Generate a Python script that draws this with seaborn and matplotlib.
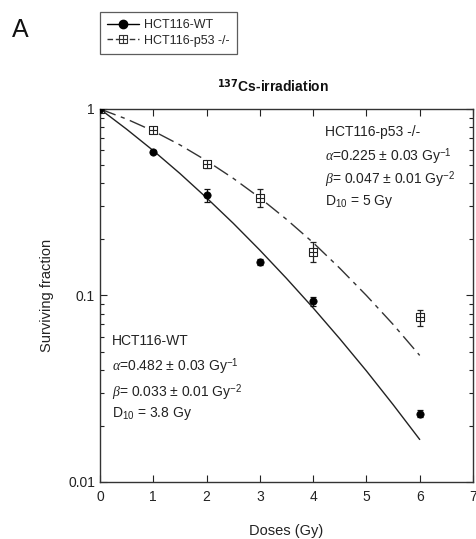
import numpy as np
import pandas as pd
import matplotlib
matplotlib.use("Agg")
import matplotlib.pyplot as plt
from matplotlib.path import Path
from matplotlib.lines import Line2D
from matplotlib.ticker import LogLocator, NullFormatter, FixedLocator
import seaborn as sns

# ---- data ----
doses = [0, 1, 2, 3, 4, 6]
wt_surv = [1.0, 0.59, 0.346, 0.151, 0.093, 0.0232]
wt_err = [0.0, 0.012, 0.027, 0.005, 0.005, 0.001]
p53_surv = [1.0, 0.772, 0.507, 0.334, 0.172, 0.0764]
p53_err = [0.0, 0.02, 0.022, 0.037, 0.021, 0.0077]

curve_doses = [0, 0.5, 1, 1.5, 2, 2.5, 3, 3.5, 4, 4.5, 5, 5.5, 6]
wt_curve = [1.0, 0.779, 0.598, 0.451, 0.334, 0.244, 0.175, 0.1235, 0.0858, 0.0586, 0.0394, 0.0260, 0.0169]
p53_curve = [1.0, 0.883, 0.762, 0.642, 0.528, 0.425, 0.334, 0.256, 0.192, 0.140, 0.100, 0.070, 0.0477]

labels = ["HCT116-WT", "HCT116-p53 -/-"]
x_ticks = [0, 1, 2, 3, 4, 5, 6, 7]
y_ticks = [0.01, 0.1, 1]
y_ticklabels = ["0.01", "0.1", "1"]

sns.set_style("ticks")
plt.rcParams["font.family"] = ["Liberation Sans", "DejaVu Sans"]
plt.rcParams["mathtext.fontset"] = "custom"
plt.rcParams["mathtext.rm"] = "Liberation Sans"
plt.rcParams["mathtext.it"] = "Liberation Serif:italic"

fig = plt.figure(figsize=(4.77, 5.39), dpi=100)
ax = fig.add_axes([0.2096, 0.1058, 0.7820, 0.6920])

DASH = (12, 4, 3, 4)

# curves
curves = pd.DataFrame({
    "dose": curve_doses * 2,
    "surv": wt_curve + p53_curve,
    "line": [labels[0]] * len(curve_doses) + [labels[1]] * len(curve_doses),
})
sns.lineplot(data=curves, x="dose", y="surv", style="line", hue="line",
             palette={labels[0]: "#222222", labels[1]: "#333333"},
             dashes={labels[0]: "", labels[1]: DASH},
             linewidth=1.0, legend=False, ax=ax, sort=False)

# square-with-cross marker
sq = Path([(-1, -1), (1, -1), (1, 1), (-1, 1), (-1, -1),
           (0, -1), (0, 1), (-1, 0), (1, 0)],
          [Path.MOVETO, Path.LINETO, Path.LINETO, Path.LINETO, Path.CLOSEPOLY,
           Path.MOVETO, Path.LINETO, Path.MOVETO, Path.LINETO])

ax.errorbar(doses, p53_surv, yerr=p53_err, fmt="none", ecolor="#222222",
            elinewidth=0.9, capsize=2.5, capthick=0.9, zorder=3)
ax.errorbar(doses, wt_surv, yerr=wt_err, fmt="none", ecolor="#111111",
            elinewidth=0.9, capsize=2.5, capthick=0.9, zorder=3)

pts = pd.DataFrame({"dose": doses, "wt": wt_surv, "p53": p53_surv})
sns.scatterplot(data=pts, x="dose", y="p53", marker=sq, s=28, facecolor="white",
                edgecolor="#222222", linewidth=0.8, ax=ax, zorder=4)
sns.scatterplot(data=pts, x="dose", y="wt", marker="o", s=28, color="black",
                edgecolor="black", linewidth=0.5, ax=ax, zorder=4)

ax.set_yscale("log")
ax.set_xlim(0, 7)
ax.set_ylim(0.01, 1)
ax.xaxis.set_major_locator(FixedLocator(x_ticks))
ax.set_xticklabels([str(t) for t in x_ticks])
ax.yaxis.set_major_locator(FixedLocator(y_ticks))
ax.set_yticklabels(y_ticklabels)
ax.yaxis.set_minor_locator(LogLocator(base=10, subs=np.arange(2, 10)))
ax.yaxis.set_minor_formatter(NullFormatter())
ax.tick_params(which="both", direction="in", top=True, right=True,
               labelsize=10, colors="#222222", width=0.8)
ax.tick_params(which="major", length=5)
ax.tick_params(which="minor", length=3)
ax.tick_params(axis="x", pad=6)
for s in ax.spines.values():
    s.set_linewidth(1.0)
    s.set_color("#333333")

ax.set_xlabel("Doses (Gy)", fontsize=10.5, labelpad=14, color="#222222")
ax.set_ylabel("Surviving fraction", fontsize=10.5, labelpad=10, color="#222222")
ax.set_title(r"$^{\mathbf{137}}$Cs-irradiation", fontsize=10, fontweight="bold",
             pad=12, x=0.465, color="#111111")

# annotations
tkw = dict(fontsize=10, color="#222222", transform=fig.transFigure, va="center", ha="left")
fig.text(325/477, 1 - 132/539, "HCT116-p53 -/-", **tkw)
fig.text(325/477, 1 - 157/539, r"$\mathit{\alpha}$=0.225 ± 0.03 Gy$^{-1}$", **tkw)
fig.text(325/477, 1 - 180/539, r"$\mathit{\beta}$= 0.047 ± 0.01 Gy$^{-2}$", **tkw)
fig.text(325/477, 1 - 201/539, r"D$_{10}$ = 5 Gy", **tkw)

fig.text(112/477, 1 - 341/539, "HCT116-WT", **tkw)
fig.text(112/477, 1 - 367/539, r"$\mathit{\alpha}$=0.482 ± 0.03 Gy$^{-1}$", **tkw)
fig.text(112/477, 1 - 393/539, r"$\mathit{\beta}$= 0.033 ± 0.01 Gy$^{-2}$", **tkw)
fig.text(112/477, 1 - 414/539, r"D$_{10}$ = 3.8 Gy", **tkw)

fig.text(12/477, 1 - 30/539, "A", fontsize=18, color="#111111", va="center", ha="left")

handles = [
    Line2D([], [], color="black", linewidth=1.0, marker="o", markersize=6),
    Line2D([], [], color="#333333", linewidth=1.0, linestyle=(0, (4, 2, 8, 2)),
           marker=sq, markersize=6, markerfacecolor="white", markeredgewidth=0.8),
]
leg = fig.legend(handles, labels, loc="upper left", bbox_to_anchor=(100/477, 1 - 12/539),
                 borderaxespad=0.0,
                 fontsize=9, frameon=True, fancybox=False, handlelength=2.6,
                 handletextpad=0.4, borderpad=0.55, labelspacing=0.3)
leg.get_frame().set_edgecolor("#333333")
leg.get_frame().set_linewidth(0.9)

fig.savefig("out.png", dpi=100)
